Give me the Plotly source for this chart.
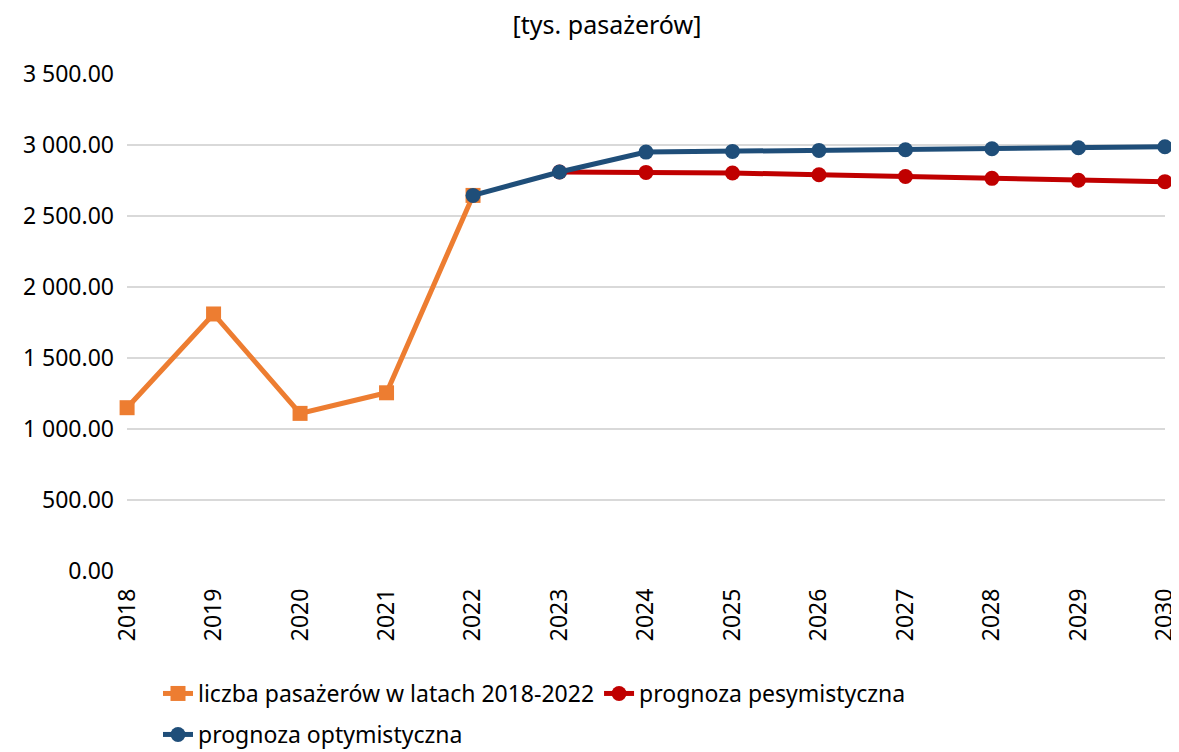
import plotly.graph_objects as go

years = [2018, 2019, 2020, 2021, 2022, 2023, 2024, 2025, 2026, 2027, 2028, 2029, 2030]
hist_years = [2018, 2019, 2020, 2021, 2022]
hist_vals = [1150, 1810, 1110, 1255, 2645]
pes_years = [2023, 2024, 2025, 2026, 2027, 2028, 2029, 2030]
pes_vals = [2810, 2807, 2803, 2790, 2778, 2765, 2752, 2742]
opt_years = [2022, 2023, 2024, 2025, 2026, 2027, 2028, 2029, 2030]
opt_vals = [2645, 2810, 2950, 2955, 2962, 2967, 2974, 2981, 2988]
y_ticks = [0, 500, 1000, 1500, 2000, 2500, 3000, 3500]
y_labels = ["0.00", "500.00", "1 000.00", "1 500.00", "2 000.00", "2 500.00", "3 000.00", "3 500.00"]

FONT = "Noto Sans"
W, H = 1171, 744  # page has an 8px body margin

fig = go.Figure()
fig.add_trace(go.Scatter(
    x=hist_years, y=hist_vals, mode="lines+markers",
    name="liczba pasażerów w latach 2018-2022",
    line=dict(color="#ED7D31", width=5),
    marker=dict(symbol="square", size=15, color="#ED7D31"),
    legend="legend", cliponaxis=False,
))
fig.add_trace(go.Scatter(
    x=pes_years, y=pes_vals, mode="lines+markers",
    name="prognoza pesymistyczna",
    line=dict(color="#C00000", width=5),
    marker=dict(symbol="circle", size=15, color="#C00000"),
    legend="legend", cliponaxis=False,
))
fig.add_trace(go.Scatter(
    x=opt_years, y=opt_vals, mode="lines+markers",
    name="prognoza optymistyczna",
    line=dict(color="#1F4E79", width=5),
    marker=dict(symbol="circle", size=15, color="#1F4E79"),
    legend="legend2", cliponaxis=False,
))

fig.update_layout(
    width=W, height=H,
    margin=dict(l=119, r=14, t=66, b=181),
    paper_bgcolor="white", plot_bgcolor="white",
    font=dict(family=FONT, size=23, color="#000000"),
    title=dict(text="[tys. pasażerów]", x=599 / W, xref="container", xanchor="center",
               y=1 - 17 / H, yref="container", yanchor="middle",
               font=dict(family=FONT, size=25, color="#000000")),
    xaxis=dict(
        tickmode="array", tickvals=years, ticktext=[str(y) for y in years],
        range=[2017.999, 2030.001], tickangle=-90, showgrid=False, zeroline=False,
        showline=False, ticks="", ticklabelstandoff=12, tickfont=dict(size=23),
        ticklabeloverflow="allow",
    ),
    yaxis=dict(
        tickmode="array", tickvals=y_ticks, ticktext=y_labels,
        range=[0, 3500], showgrid=True, gridcolor="#D9D9D9", gridwidth=1.5,
        zeroline=False, showline=False, ticks="", ticklabelstandoff=12,
        tickfont=dict(size=23),
    ),
    legend=dict(orientation="h", x=150 / W, xref="container", xanchor="left",
                y=1 - 664 / H, yref="container", yanchor="top",
                font=dict(size=23), itemwidth=30,
                bgcolor="rgba(0,0,0,0)"),
    legend2=dict(orientation="h", x=150 / W, xref="container", xanchor="left",
                 y=1 - 705 / H, yref="container", yanchor="top",
                 font=dict(size=23), itemwidth=30,
                 bgcolor="rgba(0,0,0,0)"),
    showlegend=True,
)
fig.update_xaxes(automargin=False)
fig.update_yaxes(automargin=False)
fig.write_html("out.html")
